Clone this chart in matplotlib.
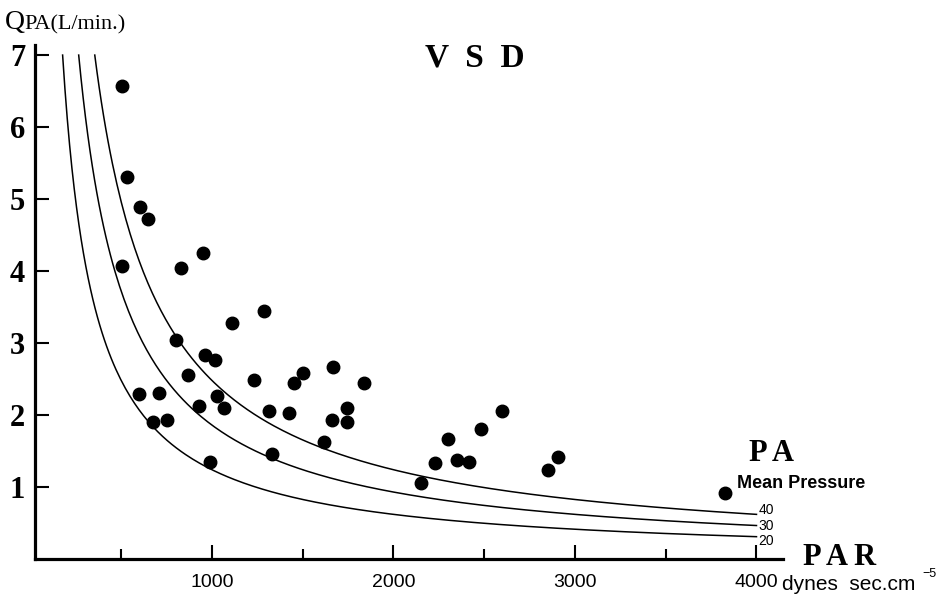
import numpy as np
import matplotlib
matplotlib.use("Agg")
import matplotlib.pyplot as plt
from matplotlib.ticker import MultipleLocator

# measured points: pulmonary arterial resistance (dynes sec cm-5) vs flow (L/min)
par = [506, 530, 603, 649, 506, 949, 831, 1110, 1288, 802,
       963, 1017, 866, 1229, 1450, 1500, 1665, 1836, 599, 710,
       1029, 927, 1064, 1312, 1424, 1744, 1663, 1744, 677, 752,
       1617, 1332, 989, 2152, 2230, 2300, 2348, 2416, 2482, 2599,
       2851, 2905, 3826]
qpa = [6.57, 5.30, 4.89, 4.72, 4.07, 4.25, 4.04, 3.28, 3.44, 3.04,
       2.83, 2.77, 2.56, 2.49, 2.44, 2.58, 2.67, 2.44, 2.29, 2.31,
       2.27, 2.12, 2.10, 2.06, 2.03, 2.10, 1.93, 1.90, 1.91, 1.93,
       1.62, 1.46, 1.35, 1.05, 1.34, 1.67, 1.38, 1.35, 1.81, 2.06,
       1.23, 1.42, 0.91]

# iso-pressure lines (mean PA pressure, mmHg)
pressures = [20, 30, 40]
k = 62.0
r_end = 4000

W, H = 942, 603
SERIF = ["Liberation Serif", "DejaVu Serif"]
SANS = ["Liberation Sans", "DejaVu Sans"]


def fx(x):
    return x / W


def fy(y):
    return 1 - y / H


def main():
    fig = plt.figure(figsize=(W / 100, H / 100), dpi=100)
    ax = fig.add_axes([fx(35), fy(559), fx(783) - fx(35), fy(45) - fy(559)])
    ax.set_xlim(25, 4146)
    ax.set_ylim(0, 7.14)

    for s in ["top", "right"]:
        ax.spines[s].set_visible(False)
    for s in ["left", "bottom"]:
        ax.spines[s].set_linewidth(2.3)

    for p in pressures:
        r0 = k * p / 7.0
        r = np.linspace(r0, r_end, 300)
        ax.plot(r, k * p / r, color="black", lw=1.1)
        # labels spread a little more than the line ends, as in the original
        ax.annotate(str(p), (r_end, k * p / r_end),
                    xytext=(1.5, (p - 30) * 0.3),
                    textcoords="offset points", fontsize=10,
                    family=SANS, va="center", ha="left")

    ax.plot(par, qpa, "o", color="black", ms=9, clip_on=False)

    ax.set_yticks(range(1, 8))
    ax.set_yticklabels([str(i) for i in range(1, 8)], family=SERIF,
                       fontweight="bold", fontsize=22)
    ax.tick_params(axis="y", direction="in", length=10, width=1.5, pad=7)

    ax.set_xticks([1000, 2000, 3000, 4000])
    ax.set_xticklabels(["1000", "2000", "3000", "4000"], family=SANS,
                       fontsize=14)
    ax.xaxis.set_minor_locator(MultipleLocator(500))
    ax.tick_params(axis="x", which="major", direction="in", length=10,
                   width=1.5, pad=11)
    ax.tick_params(axis="x", which="minor", direction="in", length=7,
                   width=1.5)

    # axis titles and annotations
    fig.text(fx(5), fy(29), "Q", family=SERIF, fontsize=20, va="baseline")
    fig.text(fx(24), fy(29), "PA(L/min.)", family=SERIF, fontsize=16,
             va="baseline")
    fig.text(fx(475), fy(58), "V  S  D", family=SERIF, fontweight="bold",
             fontsize=24, ha="center", va="center")
    fig.text(fx(749), fy(461), "P A", family=SERIF, fontweight="bold",
             fontsize=22, va="baseline")
    fig.text(fx(737), fy(488), "Mean Pressure", family=SANS,
             fontweight="bold", fontsize=13, va="baseline")
    fig.text(fx(803), fy(565), "P A R", family=SERIF, fontweight="bold",
             fontsize=22, va="baseline")
    fig.text(fx(782), fy(590), "dynes  sec.cm", family=SANS,
             fontsize=15, va="baseline")
    fig.text(fx(922), fy(577), "\u22125", family=SANS,
             fontsize=9, va="baseline")

    fig.savefig("out.png", dpi=100)


if __name__ == "__main__":
    main()
